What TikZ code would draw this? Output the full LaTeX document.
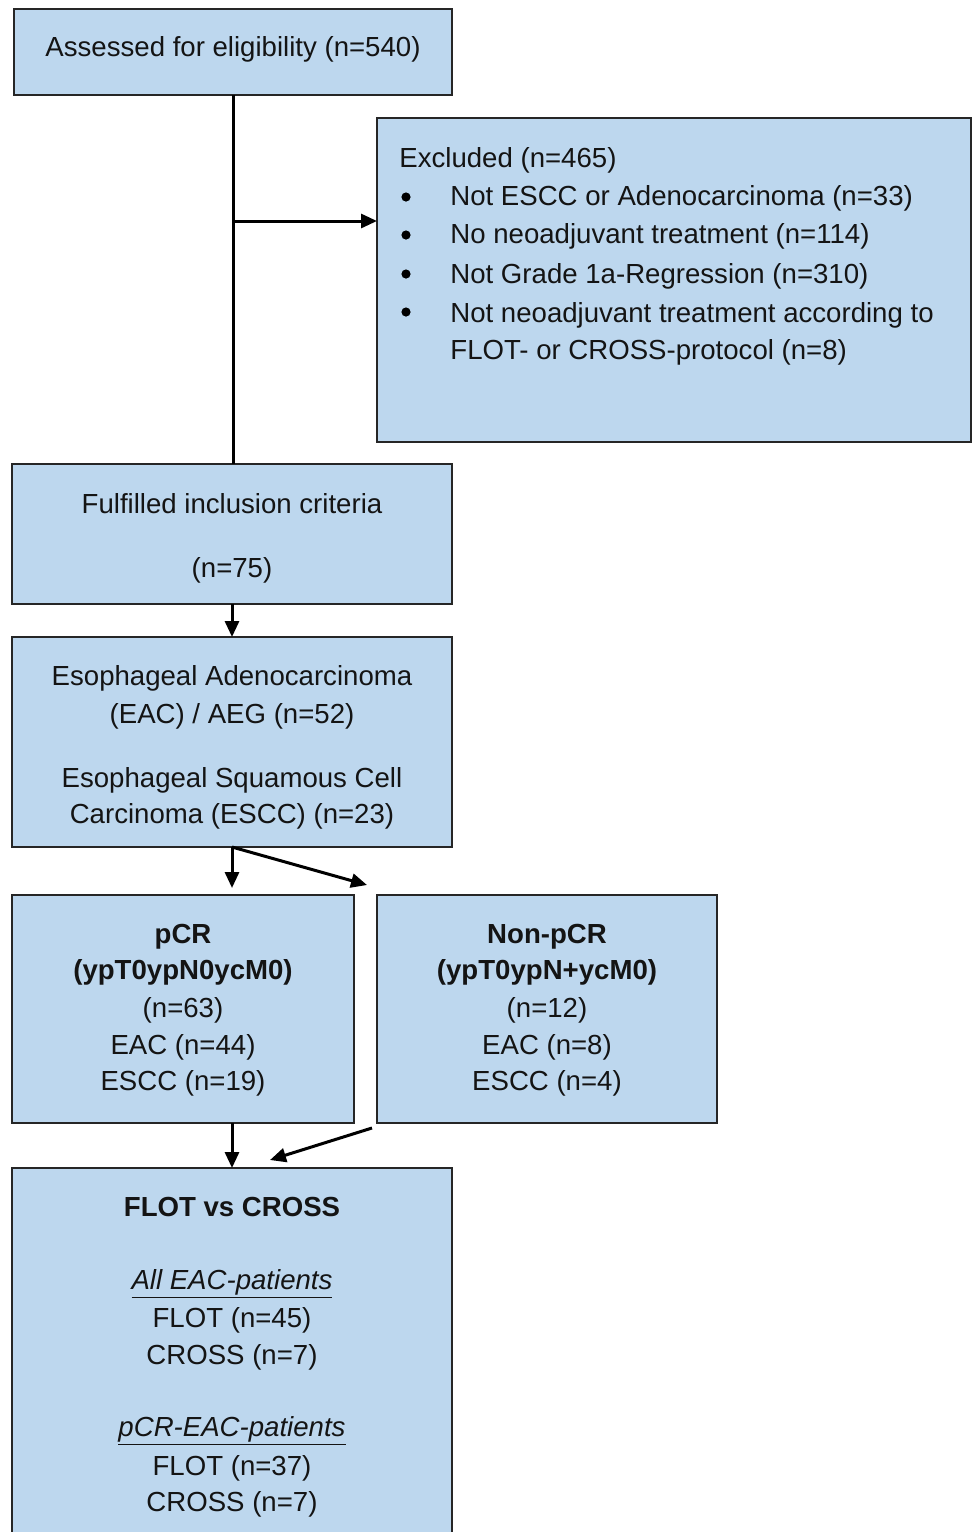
\documentclass[tikz,border=0pt]{standalone}
\usepackage{fontspec}
\setmainfont{Liberation Sans}
\usetikzlibrary{arrows.meta}
\definecolor{boxfill}{RGB}{189,215,238}
\definecolor{boxline}{RGB}{38,38,38}
\definecolor{txtcol}{RGB}{20,20,20}
\begin{document}
\begin{tikzpicture}[x=0.5pt,y=-0.5pt,
  box/.style={draw=boxline, fill=boxfill, line width=1pt, inner sep=0pt, outer sep=0pt, rectangle},
  txt/.style={anchor=base, inner sep=0pt, font=\fontsize{13.8pt}{16pt}\selectfont, text=txtcol},
  txtl/.style={txt, anchor=base west},
  bul/.style={circle, fill=black, inner sep=0pt, minimum size=4.6pt},
  ln/.style={line width=1.5pt, draw=black},
  arr/.style={ln, -{Triangle[length=8pt,width=7pt]}}]
\useasboundingbox (0,0) rectangle (972,1532);
% boxes
\node[box, minimum width=219pt, minimum height=43pt] (assess) at (233,52) {};
\node[box, minimum width=296.75pt, minimum height=162pt] (excl) at (673.75,280) {};
\node[box, minimum width=220pt, minimum height=70pt] (ful) at (232,534) {};
\node[box, minimum width=220pt, minimum height=105pt] (eso) at (232,742) {};
\node[box, minimum width=171pt, minimum height=114pt] (pcr) at (183,1009) {};
\node[box, minimum width=170pt, minimum height=114pt] (npcr) at (547,1009) {};
\node[box, minimum width=220pt, minimum height=196pt] (flot) at (232,1364) {};
% texts
\node[txt] (t1) at (233,56) {Assessed for eligibility (n=540)};
\node[txtl] (e0) at (399,167) {Excluded (n=465)};
\node[bul] (e1b) at (406,197) {};
\node[txtl] (e1) at (450,205) {Not ESCC or Adenocarcinoma (n=33)};
\node[bul] (e2b) at (406,235) {};
\node[txtl] (e2) at (450,243) {No neoadjuvant treatment (n=114)};
\node[bul] (e3b) at (406,274) {};
\node[txtl] (e3) at (450,283) {Not Grade 1a-Regression (n=310)};
\node[bul] (e4b) at (406,312) {};
\node[txtl] (e4) at (450,322) {Not neoadjuvant treatment according to};
\node[txtl] (e5) at (450,359) {FLOT- or CROSS-protocol (n=8)};
\node[txt] (f1) at (232,513) {Fulfilled inclusion criteria};
\node[txt] (f2) at (232,577) {(n=75)};
\node[txt] (s1) at (232,685) {Esophageal Adenocarcinoma};
\node[txt] (s2) at (232,723) {(EAC) / AEG (n=52)};
\node[txt] (s3) at (232,787) {Esophageal Squamous Cell};
\node[txt] (s4) at (232,823) {Carcinoma (ESCC) (n=23)};
\node[txt, font=\fontsize{13.8pt}{16pt}\selectfont\bfseries] (p1) at (183,943) {pCR};
\node[txt, font=\fontsize{13.8pt}{16pt}\selectfont\bfseries] (p2) at (183,979) {(ypT0ypN0ycM0)};
\node[txt] (p3) at (183,1017) {(n=63)};
\node[txt] (p4) at (183,1054) {EAC (n=44)};
\node[txt] (p5) at (183,1090) {ESCC (n=19)};
\node[txt, font=\fontsize{13.8pt}{16pt}\selectfont\bfseries] (n1) at (547,943) {Non-pCR};
\node[txt, font=\fontsize{13.8pt}{16pt}\selectfont\bfseries] (n2) at (547,979) {(ypT0ypN+ycM0)};
\node[txt] (n3) at (547,1017) {(n=12)};
\node[txt] (n4) at (547,1054) {EAC (n=8)};
\node[txt] (n5) at (547,1090) {ESCC (n=4)};
\node[txt, font=\fontsize{13.8pt}{16pt}\selectfont\bfseries] (g1) at (232,1216) {FLOT vs CROSS};
\node[txt, font=\fontsize{13.8pt}{16pt}\selectfont\itshape] (g2) at (232,1289) {\underline{All EAC-patients}};
\node[txt] (g3) at (232,1327) {FLOT (n=45)};
\node[txt] (g4) at (232,1364) {CROSS (n=7)};
\node[txt, font=\fontsize{13.8pt}{16pt}\selectfont\itshape] (g5) at (232,1436) {\underline{pCR-EAC-patients}};
\node[txt] (g6) at (232,1475) {FLOT (n=37)};
\node[txt] (g7) at (232,1511) {CROSS (n=7)};
% connectors
\coordinate (br) at (233,221);
\coordinate (npin) at (367,885);
\coordinate (npout) at (372,1128);
\coordinate (flin) at (270,1160);
\draw[ln] (assess.south) -- (assess.south |- ful.north);
\draw[arr] (br) -- (excl.west |- br);
\draw[arr] (ful.south) -- (eso.north);
\draw[arr, shorten >=3.5pt] (eso.south) -- (eso.south |- pcr.north);
\draw[arr] (eso.south) -- (npin);
\draw[arr] (pcr.south -| flot.north) -- (flot.north);
\draw[arr] (npout) -- (flin);
\end{tikzpicture}
\end{document}
